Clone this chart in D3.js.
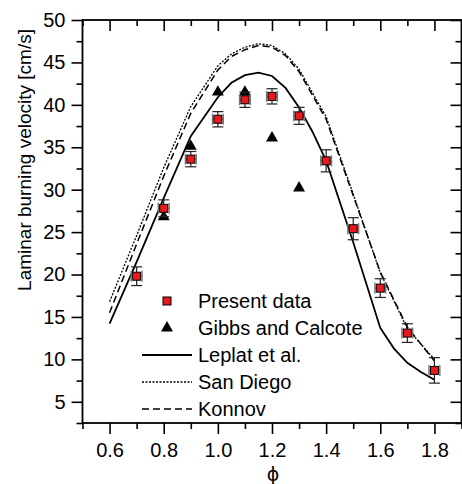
<!DOCTYPE html>
<html>
<head>
<meta charset="utf-8">
<script src="https://cdn.jsdelivr.net/npm/d3@7"></script>
<style>
  body { margin: 0; background: #fff; }
  svg text { font-family: "Liberation Sans", Arial, sans-serif; fill: #000; }
</style>
</head>
<body>
<div id="chart"></div>
<script>
// measured data (present work)
var phiPresent = [0.7, 0.8, 0.9, 1.0, 1.1, 1.2, 1.3, 1.4, 1.5, 1.6, 1.7, 1.8];
var suPresent = [19.8, 27.8, 33.6, 38.3, 40.6, 41.0, 38.7, 33.4, 25.4, 18.4, 13.1, 8.7];
var suError = [1.1, 1.0, 0.9, 0.9, 0.9, 0.9, 1.0, 1.3, 1.3, 1.1, 1.1, 1.5];
var phiError = [0.02, 0.02, 0.02, 0.02, 0.02, 0.02, 0.02, 0.02, 0.02, 0.02, 0.02, 0.02];

// Gibbs and Calcote
var phiGibbs = [0.8, 0.9, 1.0, 1.1, 1.2, 1.3];
var suGibbs = [26.8, 35.1, 41.5, 41.5, 36.1, 30.2];

// model curves
var phiLeplat = [0.6, 0.7, 0.8, 0.9, 1.0, 1.05, 1.1, 1.15, 1.2, 1.25, 1.3, 1.35, 1.4, 1.5, 1.6, 1.65, 1.7, 1.75, 1.8];
var suLeplat = [14.2, 21.5, 29.0, 36.3, 40.9, 42.6, 43.5, 43.8, 43.4, 42.0, 39.7, 36.8, 33.4, 23.8, 13.7, 11.3, 9.6, 8.5, 7.6];

var phiSanDiego = [0.6, 0.7, 0.8, 0.9, 1.0, 1.05, 1.1, 1.15, 1.2, 1.25, 1.3, 1.4, 1.5, 1.6, 1.7, 1.8];
var suSanDiego = [16.8, 24.6, 32.6, 39.8, 44.6, 46.0, 46.8, 47.2, 47.0, 46.0, 44.2, 38.6, 29.5, 20.2, 13.6, 10.0];

var phiKonnov = [0.6, 0.7, 0.8, 0.9, 1.0, 1.05, 1.1, 1.15, 1.2, 1.25, 1.3, 1.4, 1.5, 1.6, 1.7, 1.8];
var suKonnov = [15.5, 23.6, 31.6, 39.0, 44.1, 45.7, 46.5, 47.0, 46.8, 45.8, 43.9, 38.3, 29.3, 20.3, 13.8, 9.8];

var legendLabels = ["Present data", "Gibbs and Calcote", "Leplat et al.", "San Diego", "Konnov"];
var xTicks = [0.6, 0.8, 1.0, 1.2, 1.4, 1.6, 1.8];
var xMinor = [0.5, 0.7, 0.9, 1.1, 1.3, 1.5, 1.7, 1.9];
var yTicks = [5, 10, 15, 20, 25, 30, 35, 40, 45, 50];
var yMinor = [2.5, 7.5, 12.5, 17.5, 22.5, 27.5, 32.5, 37.5, 42.5, 47.5];

var W = 462, H = 484;
var plotLeft = 82.5, plotRight = 461.5, plotTop = 20, plotBottom = 423;

var svg = d3.select("#chart").append("svg")
    .attr("width", W)
    .attr("height", H);

var x = d3.scaleLinear().domain([0.5, 1.9]).range([plotLeft, plotRight]);
var y = d3.scaleLinear().domain([2.5, 50]).range([plotBottom, plotTop]);

var fmt = d3.format(".1f");

//axes: major + minor ticks, outward on bottom/left, inward on top/right
function styleAxis(g) {
    g.select(".domain").remove();
    g.selectAll(".tick line").attr("stroke", "#000").attr("stroke-width", 1.6);
    g.selectAll("text").style("font-size", "20px").attr("fill", "#000");
}

svg.append("g").attr("transform", "translate(0," + plotBottom + ")")
    .call(d3.axisBottom(x).tickValues(xTicks).tickSize(11).tickPadding(9).tickFormat(fmt))
    .call(styleAxis);
svg.append("g").attr("transform", "translate(0," + plotBottom + ")")
    .call(d3.axisBottom(x).tickValues(xMinor).tickSize(6).tickFormat(""))
    .call(styleAxis);
svg.append("g").attr("transform", "translate(0," + plotTop + ")")
    .call(d3.axisTop(x).tickValues(xTicks).tickSize(-11).tickFormat(""))
    .call(styleAxis);
svg.append("g").attr("transform", "translate(0," + plotTop + ")")
    .call(d3.axisTop(x).tickValues(xMinor).tickSize(-6).tickFormat(""))
    .call(styleAxis);

svg.append("g").attr("transform", "translate(" + plotLeft + ",0)")
    .call(d3.axisLeft(y).tickValues(yTicks).tickSize(11).tickPadding(6))
    .call(styleAxis);
svg.append("g").attr("transform", "translate(" + plotLeft + ",0)")
    .call(d3.axisLeft(y).tickValues(yMinor).tickSize(6).tickFormat(""))
    .call(styleAxis);
svg.append("g").attr("transform", "translate(" + plotRight + ",0)")
    .call(d3.axisRight(y).tickValues(yTicks).tickSize(-11).tickFormat(""))
    .call(styleAxis);
svg.append("g").attr("transform", "translate(" + plotRight + ",0)")
    .call(d3.axisRight(y).tickValues(yMinor).tickSize(-6).tickFormat(""))
    .call(styleAxis);

// frame
svg.append("rect")
    .attr("x", plotLeft).attr("y", plotTop)
    .attr("width", plotRight - plotLeft).attr("height", plotBottom - plotTop)
    .attr("fill", "none").attr("stroke", "#000").attr("stroke-width", 1.8);

// axis titles
svg.append("text")
    .attr("transform", "translate(31,160) rotate(-90)")
    .attr("text-anchor", "middle")
    .style("font-size", "19px")
    .text("Laminar burning velocity [cm/s]");

svg.append("text")
    .attr("x", (plotLeft + plotRight) / 2 + 1)
    .attr("y", 481)
    .attr("text-anchor", "middle")
    .style("font-family", "'DejaVu Sans', sans-serif")
    .style("font-size", "19px")
    .text("ϕ");

// model lines
var line = d3.line().x(d => x(d[0])).y(d => y(d[1]));

function drawModel(phi, su, dash, width) {
    svg.append("path")
        .datum(d3.zip(phi, su))
        .attr("d", line)
        .attr("fill", "none")
        .attr("stroke", "#000")
        .attr("stroke-width", width)
        .attr("stroke-dasharray", dash);
}
drawModel(phiSanDiego, suSanDiego, "2,1.5", 1.3);
drawModel(phiKonnov, suKonnov, "7,4", 1.5);
drawModel(phiLeplat, suLeplat, null, 1.8);

// Gibbs and Calcote triangles
var tri = d3.symbol().type(d3.symbolTriangle).size(62);
svg.selectAll(".gibbs")
    .data(d3.zip(phiGibbs, suGibbs))
    .enter().append("path")
    .attr("class", "gibbs")
    .attr("d", tri)
    .attr("transform", d => "translate(" + x(d[0]) + "," + y(d[1]) + ")")
    .attr("fill", "#000");

// present data with error bars
var present = phiPresent.map((p, i) => ({ phi: p, su: suPresent[i], ey: suError[i], ex: phiError[i] }));
var cap = 5.5;

var eb = svg.selectAll(".err").data(present).enter().append("g").attr("class", "err");
// horizontal (phi) error bars, grey
eb.append("line")
    .attr("x1", d => x(d.phi - d.ex)).attr("x2", d => x(d.phi + d.ex))
    .attr("y1", d => y(d.su)).attr("y2", d => y(d.su))
    .attr("stroke", "#777").attr("stroke-width", 1.4);
eb.append("line")
    .attr("x1", d => x(d.phi - d.ex)).attr("x2", d => x(d.phi - d.ex))
    .attr("y1", d => y(d.su) - cap).attr("y2", d => y(d.su) + cap)
    .attr("stroke", "#777").attr("stroke-width", 1.4);
eb.append("line")
    .attr("x1", d => x(d.phi + d.ex)).attr("x2", d => x(d.phi + d.ex))
    .attr("y1", d => y(d.su) - cap).attr("y2", d => y(d.su) + cap)
    .attr("stroke", "#777").attr("stroke-width", 1.4);
// vertical (su) error bars, black
eb.append("line")
    .attr("x1", d => x(d.phi)).attr("x2", d => x(d.phi))
    .attr("y1", d => y(d.su - d.ey)).attr("y2", d => y(d.su + d.ey))
    .attr("stroke", "#222").attr("stroke-width", 1.2);
eb.append("line")
    .attr("x1", d => x(d.phi) - cap).attr("x2", d => x(d.phi) + cap)
    .attr("y1", d => y(d.su - d.ey)).attr("y2", d => y(d.su - d.ey))
    .attr("stroke", "#222").attr("stroke-width", 1.2);
eb.append("line")
    .attr("x1", d => x(d.phi) - cap).attr("x2", d => x(d.phi) + cap)
    .attr("y1", d => y(d.su + d.ey)).attr("y2", d => y(d.su + d.ey))
    .attr("stroke", "#222").attr("stroke-width", 1.2);

svg.selectAll(".present")
    .data(present)
    .enter().append("rect")
    .attr("class", "present")
    .attr("x", d => x(d.phi) - 4)
    .attr("y", d => y(d.su) - 4)
    .attr("width", 8).attr("height", 8)
    .attr("fill", "#e8191b")
    .attr("stroke", "#000").attr("stroke-width", 1);

// legend
var legend = svg.append("g").attr("class", "legend");
var legendY = [301, 328, 355, 382, 409];
var styles = [null, null, { dash: null, w: 1.8 }, { dash: "2,1.5", w: 1.3 }, { dash: "7,4", w: 1.5 }];

legendLabels.forEach(function(label, i) {
    var ly = legendY[i];
    if (i === 0) {
        legend.append("rect")
            .attr("x", 163).attr("y", ly - 4)
            .attr("width", 8).attr("height", 8)
            .attr("fill", "#e8191b").attr("stroke", "#000");
    } else if (i === 1) {
        legend.append("path")
            .attr("d", tri)
            .attr("transform", "translate(167," + ly + ")")
            .attr("fill", "#000");
    } else {
        legend.append("line")
            .attr("x1", 142).attr("x2", 192)
            .attr("y1", ly).attr("y2", ly)
            .attr("stroke", "#000")
            .attr("stroke-width", styles[i].w)
            .attr("stroke-dasharray", styles[i].dash);
    }
    legend.append("text")
        .attr("x", 198)
        .attr("y", ly)
        .attr("dy", "0.35em")
        .style("font-size", "20px")
        .text(label);
});
</script>
</body>
</html>
